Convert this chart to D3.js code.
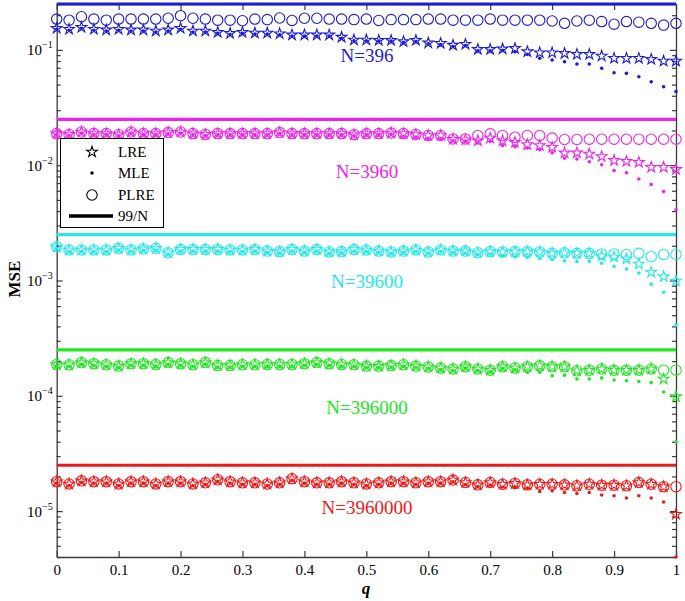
<!DOCTYPE html>
<html><head><meta charset="utf-8">
<script src="https://cdn.jsdelivr.net/npm/d3@7"></script>
<style>
body{margin:0;background:#fff}
svg{display:block}
text{font-family:"Liberation Serif","Times New Roman",serif;fill:#000}
</style>
</head><body>
<svg id="chart" width="685" height="601"></svg>
<script>
// ---------------- data ----------------
const q = [0,0.02,0.04,0.06,0.08,0.1,0.12,0.14,0.16,0.18,0.2,0.22,0.24,0.26,0.28,0.3,0.32,0.34,0.36,0.38,0.4,0.42,0.44,0.46,0.48,0.5,0.52,0.54,0.56,0.58,0.6,0.62,0.64,0.66,0.68,0.7,0.72,0.74,0.76,0.78,0.8,0.82,0.84,0.86,0.88,0.9,0.92,0.94,0.96,0.98,1];

const sampleSizes = ["N=396","N=3960","N=39600","N=396000","N=3960000"];
const refLine = [0.25,0.025,0.0025,0.00025,0.000025]; // 99/N
const seriesColors = ["#1c1cd8","#ee22ee","#22eaea","#22e622","#ee1a1a"];

const lre396 = [0.154,0.151,0.157,0.151,0.149,0.151,0.149,0.149,0.146,0.149,0.154,0.146,0.146,0.142,0.139,0.142,0.140,0.140,0.138,0.135,0.135,0.135,0.135,0.129,0.122,0.122,0.121,0.121,0.118,0.121,0.115,0.114,0.110,0.112,0.101,0.101,0.102,0.103,0.0965,0.0945,0.0945,0.0933,0.0915,0.0915,0.0885,0.0845,0.0845,0.0845,0.0828,0.080,0.080];
const mle396 = [0.151,0.148,0.154,0.148,0.146,0.148,0.146,0.146,0.143,0.146,0.151,0.143,0.143,0.139,0.136,0.139,0.137,0.137,0.135,0.132,0.132,0.132,0.132,0.126,0.120,0.120,0.119,0.119,0.116,0.118,0.113,0.111,0.107,0.109,0.098,0.098,0.099,0.0965,0.0915,0.0845,0.0817,0.079,0.0755,0.0755,0.0692,0.0634,0.0626,0.0585,0.053,0.0479,0.0435];
const plre396 = [0.185,0.181,0.194,0.185,0.181,0.185,0.185,0.185,0.185,0.188,0.198,0.188,0.185,0.181,0.181,0.179,0.185,0.183,0.189,0.180,0.188,0.188,0.185,0.185,0.183,0.185,0.180,0.183,0.183,0.183,0.185,0.185,0.181,0.181,0.181,0.185,0.181,0.181,0.181,0.181,0.178,0.170,0.178,0.181,0.176,0.167,0.176,0.174,0.170,0.164,0.170];

const lre3960 = [0.0188,0.0185,0.0194,0.0188,0.0188,0.0184,0.0194,0.0188,0.0188,0.0192,0.0194,0.0188,0.0185,0.0188,0.0188,0.0188,0.0188,0.0188,0.0192,0.0188,0.0188,0.0188,0.0188,0.0188,0.0184,0.0188,0.0188,0.0190,0.0188,0.0185,0.0181,0.0181,0.0168,0.0166,0.0163,0.0172,0.0163,0.0158,0.0151,0.0148,0.0143,0.0128,0.0128,0.0125,0.0119,0.0110,0.0108,0.0106,0.0096,0.0096,0.0092];
const mle3960 = [0.0184,0.0181,0.0190,0.0184,0.0184,0.0180,0.0190,0.0184,0.0184,0.0188,0.0190,0.0184,0.0181,0.0184,0.0184,0.0184,0.0184,0.0184,0.0188,0.0184,0.0184,0.0184,0.0184,0.0184,0.0180,0.0184,0.0184,0.0186,0.0178,0.0175,0.0170,0.0170,0.0163,0.0162,0.0156,0.0161,0.0148,0.0145,0.0141,0.0136,0.0128,0.0115,0.0113,0.0107,0.0101,0.0090,0.0086,0.0076,0.0068,0.0059,0.0041];
const plre3960 = [0.0188,0.0185,0.0194,0.0188,0.0188,0.0184,0.0194,0.0188,0.0188,0.0192,0.0194,0.0188,0.0185,0.0188,0.0188,0.0188,0.0188,0.0188,0.0192,0.0188,0.0188,0.0188,0.0188,0.0188,0.0184,0.0188,0.0188,0.0190,0.0188,0.0185,0.0181,0.0181,0.0169,0.0169,0.0181,0.0187,0.0181,0.0175,0.0181,0.0181,0.0172,0.0167,0.0167,0.0168,0.0168,0.0168,0.0168,0.0168,0.0168,0.0168,0.0168];

const lre39600 = [0.00196,0.00184,0.00184,0.00184,0.00184,0.00190,0.00184,0.00188,0.00190,0.00174,0.00186,0.00186,0.00186,0.00186,0.00184,0.00184,0.00186,0.00180,0.00178,0.00186,0.00180,0.00186,0.00177,0.00178,0.00186,0.00184,0.00180,0.00177,0.00180,0.00184,0.00177,0.00184,0.00180,0.00180,0.00174,0.00178,0.00177,0.00178,0.00178,0.00177,0.00172,0.00174,0.00172,0.00172,0.00163,0.00160,0.00154,0.00139,0.00118,0.00108,0.00099];
const mle39600 = [0.00190,0.00178,0.00178,0.00178,0.00178,0.00184,0.00178,0.00182,0.00184,0.00169,0.00180,0.00180,0.00180,0.00180,0.00178,0.00178,0.00180,0.00175,0.00173,0.00180,0.00175,0.00180,0.00172,0.00173,0.00180,0.00178,0.00175,0.00172,0.00175,0.00178,0.00172,0.00178,0.00175,0.00173,0.00168,0.00170,0.00163,0.00160,0.00158,0.00155,0.00152,0.00148,0.00146,0.00146,0.00141,0.00133,0.00126,0.00116,0.00093,0.00079,0.00041];
const plre39600 = [0.00196,0.00184,0.00184,0.00184,0.00184,0.00190,0.00184,0.00188,0.00190,0.00174,0.00186,0.00186,0.00186,0.00186,0.00184,0.00184,0.00186,0.00180,0.00178,0.00186,0.00180,0.00186,0.00177,0.00178,0.00186,0.00184,0.00180,0.00177,0.00180,0.00184,0.00177,0.00184,0.00180,0.00180,0.00174,0.00178,0.00177,0.00178,0.00178,0.00177,0.00172,0.00174,0.00172,0.00172,0.00170,0.00170,0.00168,0.00172,0.00161,0.00168,0.00168];

const lre396000 = [0.000187,0.000186,0.000194,0.000190,0.000186,0.000181,0.000190,0.000190,0.000187,0.000194,0.000190,0.000186,0.000194,0.000183,0.000183,0.000186,0.000186,0.000187,0.000187,0.000187,0.000190,0.000194,0.000190,0.000187,0.000186,0.000181,0.000181,0.000183,0.000186,0.000181,0.000178,0.000174,0.000171,0.000179,0.000171,0.000167,0.000179,0.000174,0.000179,0.000182,0.000179,0.000179,0.000165,0.000167,0.000171,0.000167,0.000167,0.000167,0.000171,0.000140,0.0000983];
const mle396000 = [0.000181,0.000180,0.000188,0.000184,0.000180,0.000176,0.000184,0.000184,0.000181,0.000188,0.000184,0.000180,0.000188,0.000178,0.000178,0.000180,0.000180,0.000181,0.000181,0.000181,0.000184,0.000188,0.000184,0.000181,0.000180,0.000176,0.000176,0.000178,0.000180,0.000176,0.000173,0.000169,0.000166,0.000174,0.000166,0.000162,0.000172,0.000168,0.000160,0.000160,0.000149,0.000151,0.000140,0.000140,0.000143,0.000137,0.000135,0.000133,0.000130,0.000108,0.000040];
const plre396000 = [0.000187,0.000186,0.000194,0.000190,0.000186,0.000181,0.000190,0.000190,0.000187,0.000194,0.000190,0.000186,0.000194,0.000183,0.000183,0.000186,0.000186,0.000187,0.000187,0.000187,0.000190,0.000194,0.000190,0.000187,0.000186,0.000181,0.000181,0.000183,0.000186,0.000181,0.000178,0.000174,0.000171,0.000179,0.000171,0.000167,0.000179,0.000174,0.000179,0.000182,0.000179,0.000179,0.000165,0.000167,0.000171,0.000167,0.000167,0.000167,0.000171,0.000167,0.000167];

const lre3960000 = [1.80e-5,1.72e-5,1.83e-5,1.80e-5,1.80e-5,1.72e-5,1.80e-5,1.80e-5,1.72e-5,1.80e-5,1.80e-5,1.72e-5,1.76e-5,1.87e-5,1.80e-5,1.76e-5,1.76e-5,1.72e-5,1.76e-5,1.91e-5,1.80e-5,1.76e-5,1.76e-5,1.80e-5,1.76e-5,1.72e-5,1.76e-5,1.80e-5,1.80e-5,1.76e-5,1.80e-5,1.80e-5,1.86e-5,1.77e-5,1.69e-5,1.77e-5,1.71e-5,1.74e-5,1.69e-5,1.71e-5,1.71e-5,1.69e-5,1.66e-5,1.71e-5,1.68e-5,1.68e-5,1.66e-5,1.77e-5,1.71e-5,1.63e-5,0.94e-5];
const mle3960000 = [1.75e-5,1.67e-5,1.78e-5,1.75e-5,1.75e-5,1.67e-5,1.75e-5,1.75e-5,1.67e-5,1.75e-5,1.75e-5,1.67e-5,1.71e-5,1.81e-5,1.75e-5,1.71e-5,1.71e-5,1.67e-5,1.71e-5,1.85e-5,1.75e-5,1.71e-5,1.71e-5,1.75e-5,1.71e-5,1.67e-5,1.71e-5,1.75e-5,1.75e-5,1.71e-5,1.75e-5,1.75e-5,1.80e-5,1.70e-5,1.63e-5,1.68e-5,1.62e-5,1.60e-5,1.58e-5,1.48e-5,1.50e-5,1.45e-5,1.42e-5,1.45e-5,1.38e-5,1.36e-5,1.30e-5,1.36e-5,1.30e-5,1.20e-5,0.40e-5];
const plre3960000 = [1.80e-5,1.72e-5,1.83e-5,1.80e-5,1.80e-5,1.72e-5,1.80e-5,1.80e-5,1.72e-5,1.80e-5,1.80e-5,1.72e-5,1.76e-5,1.87e-5,1.80e-5,1.76e-5,1.76e-5,1.72e-5,1.76e-5,1.91e-5,1.80e-5,1.76e-5,1.76e-5,1.80e-5,1.76e-5,1.72e-5,1.76e-5,1.80e-5,1.80e-5,1.76e-5,1.80e-5,1.80e-5,1.86e-5,1.77e-5,1.69e-5,1.77e-5,1.71e-5,1.74e-5,1.69e-5,1.71e-5,1.71e-5,1.69e-5,1.66e-5,1.71e-5,1.68e-5,1.68e-5,1.66e-5,1.77e-5,1.71e-5,1.63e-5,1.63e-5];

const xTicks = [0,0.1,0.2,0.3,0.4,0.5,0.6,0.7,0.8,0.9,1];
const xTickLabels = ["0","0.1","0.2","0.3","0.4","0.5","0.6","0.7","0.8","0.9","1"];
const yTicks = [1e-5,1e-4,1e-3,1e-2,1e-1];
const yTickExponents = ["\u22125","\u22124","\u22123","\u22122","\u22121"];
const legendLabels = ["LRE","MLE","PLRE","99/N"];
const labelBaselines = [62,178,288,414,514]; // layout of the N labels

// ---------------- layout ----------------
const L = 56.7, R = 676, T = 4, B = 557;
const svg = d3.select("#chart");
const x = d3.scaleLinear().domain([0,1]).range([L,R]);
const y = d3.scaleLog().domain([4e-6,0.25]).range([B,T]);
const axisColor = "#3a3a3a";

// minor ticks
const minorTicks = [];
[1e-6,1e-5,1e-4,1e-3,1e-2,1e-1].forEach(dec=>{
  for(let k=2;k<=9;k++){const v=dec*k; if(v>=4e-6 && v<=0.25) minorTicks.push(v);}
});

function styleAxis(g){
  g.selectAll("path.domain").attr("stroke",axisColor).attr("stroke-width",1.3);
  g.selectAll(".tick line").attr("stroke",axisColor).attr("stroke-width",1.2);
}

// bottom axis
const gx = svg.append("g").attr("transform",`translate(0,${B})`)
  .call(d3.axisBottom(x).tickValues(xTicks).tickSize(-6).tickPadding(7).tickSizeOuter(0)
    .tickFormat((d,i)=>xTickLabels[i]));
styleAxis(gx);
gx.selectAll(".tick text").attr("font-size",15).attr("font-family","Liberation Serif, serif").attr("fill","#000");

// top axis
const gxt = svg.append("g").attr("transform",`translate(0,${T})`)
  .call(d3.axisTop(x).tickValues(xTicks).tickSize(-6).tickFormat("").tickSizeOuter(0));
styleAxis(gxt);

// left axis majors
const gy = svg.append("g").attr("transform",`translate(${L},0)`)
  .call(d3.axisLeft(y).tickValues(yTicks).tickSize(-6).tickPadding(6).tickSizeOuter(0).tickFormat(""));
styleAxis(gy);
gy.selectAll(".tick").each(function(d,i){
  const t = d3.select(this).append("text").attr("x",-4).attr("y",5).attr("text-anchor","end")
    .attr("font-size",15).attr("font-family","Liberation Serif, serif");
  t.append("tspan").text("10");
  t.append("tspan").attr("dy",-7).attr("font-size",10).text(yTickExponents[i]);
});
const gym = svg.append("g").attr("transform",`translate(${L},0)`)
  .call(d3.axisLeft(y).tickValues(minorTicks).tickSize(-4).tickFormat("").tickSizeOuter(0));
styleAxis(gym); gym.select("path.domain").remove();

// right axis
const gr = svg.append("g").attr("transform",`translate(${R},0)`)
  .call(d3.axisRight(y).tickValues(yTicks).tickSize(-6).tickFormat("").tickSizeOuter(0));
styleAxis(gr);
const grm = svg.append("g").attr("transform",`translate(${R},0)`)
  .call(d3.axisRight(y).tickValues(minorTicks).tickSize(-4).tickFormat("").tickSizeOuter(0));
styleAxis(grm); grm.select("path.domain").remove();

// axis titles
svg.append("text").attr("transform","translate(20,279) rotate(-90)").attr("text-anchor","middle")
  .attr("font-size",17).attr("font-weight","bold").text("MSE");
svg.append("text").attr("x",366).attr("y",594).attr("text-anchor","middle")
  .attr("font-size",17).attr("font-weight","bold").attr("font-style","italic").text("q");

// ---------------- series ----------------
const groups = [
  {lre:lre396, mle:mle396, plre:plre396},
  {lre:lre3960, mle:mle3960, plre:plre3960},
  {lre:lre39600, mle:mle39600, plre:plre39600},
  {lre:lre396000, mle:mle396000, plre:plre396000},
  {lre:lre3960000, mle:mle3960000, plre:plre3960000}
];
const starPath = d3.symbol(d3.symbolStar, 36)();
const plot = svg.append("g");

groups.forEach((g,gi)=>{
  const c = seriesColors[gi];
  const layer = plot.append("g");
  // 99/N line
  layer.append("line").attr("x1",x(0)).attr("x2",x(1))
    .attr("y1",y(refLine[gi])).attr("y2",y(refLine[gi]))
    .attr("stroke",c).attr("stroke-width",3.2);
  // LRE stars
  layer.append("g").selectAll("path").data(g.lre).join("path")
    .attr("d",starPath).attr("transform",(d,i)=>`translate(${x(q[i])},${y(d)})`)
    .attr("fill","none").attr("stroke",c).attr("stroke-width",1.1);
  // MLE dots
  layer.append("g").selectAll("circle").data(g.mle).join("circle")
    .attr("cx",(d,i)=>x(q[i])).attr("cy",d=>y(d)).attr("r",1.8).attr("fill",c);
  // PLRE circles
  layer.append("g").selectAll("circle").data(g.plre).join("circle")
    .attr("cx",(d,i)=>x(q[i])).attr("cy",d=>y(d)).attr("r",5.2)
    .attr("fill","none").attr("stroke",c).attr("stroke-width",1.1);
  // N label
  layer.append("text").attr("x",367).attr("y",labelBaselines[gi]).attr("text-anchor","middle")
    .attr("font-size",19).attr("fill",c).style("fill",c).text(sampleSizes[gi]);
});

// ---------------- legend ----------------
const lg = svg.append("g");
lg.append("rect").attr("x",60.5).attr("y",138.5).attr("width",103).attr("height",89)
  .attr("fill","#fff").attr("stroke","#000").attr("stroke-width",1);
const rowY = [152,173,195,216];
lg.append("path").attr("d",starPath).attr("transform",`translate(92,${rowY[0]})`)
  .attr("fill","none").attr("stroke","#000").attr("stroke-width",1.1);
lg.append("circle").attr("cx",92).attr("cy",rowY[1]).attr("r",1.8).attr("fill","#000");
lg.append("circle").attr("cx",92).attr("cy",rowY[2]).attr("r",5.2).attr("fill","none").attr("stroke","#000").attr("stroke-width",1.1);
lg.append("line").attr("x1",69).attr("x2",113).attr("y1",rowY[3]).attr("y2",rowY[3]).attr("stroke","#000").attr("stroke-width",3.5);
legendLabels.forEach((t,i)=>{
  lg.append("text").attr("x",118).attr("y",rowY[i]+5).attr("font-size",15).text(t);
});
</script>
</body></html>
